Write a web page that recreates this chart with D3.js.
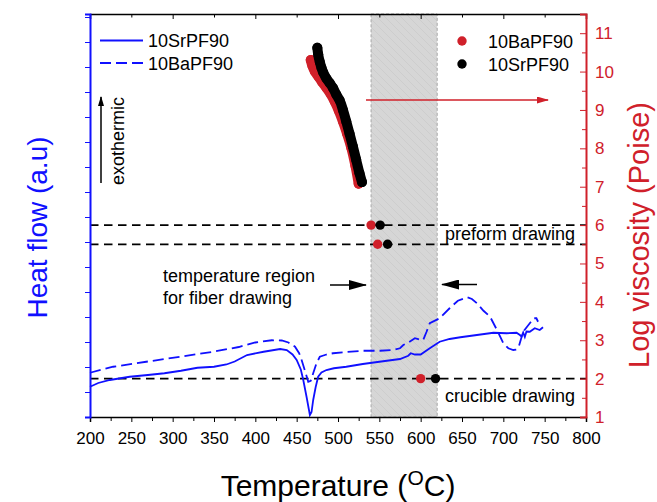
<!DOCTYPE html>
<html>
<head>
<meta charset="utf-8">
<script src="https://cdn.jsdelivr.net/npm/d3@7"></script>
<style>
body { margin: 0; background: #fff; }
text { font-family: "Liberation Sans", Arial, sans-serif; }
</style>
</head>
<body>
<svg id="chart" width="657" height="502"></svg>
<script>
// DSC curves (heat flow, arbitrary units)
var tempSr = [200, 210, 224, 248, 270, 290, 310, 330, 350, 365, 375, 390, 410, 430, 438, 445, 450, 455, 458, 462, 466, 468, 470, 473, 476, 480, 486, 495, 510, 530, 550, 575, 585, 588, 593, 600, 611, 623, 635, 648, 668, 688, 704, 716, 720, 722, 724, 726, 728, 732, 738, 744, 748];
var heatSr = [1.21, 1.36, 1.48, 1.61, 1.68, 1.75, 1.85, 1.97, 2.01, 2.1, 2.22, 2.48, 2.61, 2.72, 2.68, 2.5, 2.28, 1.9, 1.48, 0.8, 0.08, 0.2, 0.68, 1.2, 1.61, 1.78, 1.88, 1.95, 2.01, 2.12, 2.21, 2.32, 2.45, 2.55, 2.5, 2.5, 2.75, 3.01, 3.12, 3.19, 3.28, 3.37, 3.35, 3.37, 3.28, 3.22, 3.38, 3.2, 3.42, 3.41, 3.55, 3.48, 3.59];
var tempBa = [200, 228, 268, 309, 349, 380, 400, 420, 432, 440, 448, 453, 456, 460, 464, 467, 470, 474, 478, 486, 494, 510, 530, 551, 567, 575, 579, 586, 593, 598, 603, 607, 611, 623, 635, 645, 656, 662, 668, 676, 684, 692, 700, 706, 712, 716, 719, 724, 732, 737, 740, 742];
var heatBa = [1.77, 2.01, 2.21, 2.41, 2.61, 2.8, 2.98, 3.07, 3.06, 2.98, 2.81, 2.55, 2.28, 1.85, 1.41, 1.45, 1.75, 2.15, 2.41, 2.5, 2.55, 2.6, 2.65, 2.65, 2.68, 2.75, 2.88, 3.0, 3.15, 3.1, 3.08, 3.4, 3.75, 3.95, 4.35, 4.65, 4.79, 4.72, 4.55, 4.25, 4.01, 3.5, 2.95, 2.75, 2.68, 2.7, 2.85, 3.41, 3.75, 3.95, 3.95, 3.81];

// viscosity points (log poise)
var viscTempBa = [467, 469, 472, 477, 481, 486, 491, 496, 501, 506, 511, 516, 521, 525];
var viscLogBa = [10.3, 10.15, 10.0, 9.85, 9.72, 9.58, 9.42, 9.22, 8.98, 8.7, 8.38, 8.02, 7.55, 7.08];
var viscTempSr = [475, 476, 478, 480, 482, 486, 490, 494, 498, 502, 506, 510, 514, 518, 522, 526, 529];
var viscLogSr = [10.62, 10.45, 10.25, 10.1, 9.98, 9.82, 9.7, 9.57, 9.4, 9.25, 9.0, 8.7, 8.38, 8.05, 7.7, 7.35, 7.12];

// fixed points on the drawing levels
var levels = [6, 5.5, 2];
var levelLabels = ["preform drawing", "", "crucible drawing"];
var fixTempBa = [540, 548, 600];
var fixTempSr = [551, 560, 618];

var fiberRegion = [540, 620];
var xTicks = [200, 250, 300, 350, 400, 450, 500, 550, 600, 650, 700, 750, 800];
var yRightTicks = [1, 2, 3, 4, 5, 6, 7, 8, 9, 10, 11];

var blue = "#1010ff";
var red = "#d0202a";

var svg = d3.select("#chart");
var pLeft = 90, pRight = 586, pTop = 14, pBottom = 417;

var x = d3.scaleLinear().domain([200, 800]).range([pLeft, pRight]);
var yL = d3.scaleLinear().domain([0, 16.12]).range([pBottom, pTop]);
var yR = d3.scaleLinear().domain([1, 11.5]).range([pBottom, pTop]);

svg.append("rect").attr("width", 657).attr("height", 502).attr("fill", "#fff");

// hatch for the shaded band
var defs = svg.append("defs");
var pat = defs.append("pattern")
	.attr("id", "hatch")
	.attr("patternUnits", "userSpaceOnUse")
	.attr("width", 8)
	.attr("height", 8);
pat.append("rect").attr("width", 8).attr("height", 8).attr("fill", "#d6d6d6");
pat.append("path")
	.attr("d", "M0,0 L8,8 M-2,6 L2,10 M6,-2 L10,2")
	.attr("stroke", "#cacaca")
	.attr("stroke-width", 0.8);

function arrowHead(id, len, wid, color){
	defs.append("marker")
		.attr("id", id)
		.attr("viewBox", "0 0 " + len + " " + wid)
		.attr("refX", len - 1).attr("refY", wid / 2)
		.attr("markerWidth", len).attr("markerHeight", wid)
		.attr("markerUnits", "userSpaceOnUse")
		.attr("orient", "auto")
		.append("path")
		.attr("d", "M0,0 L" + len + "," + (wid / 2) + " L0," + wid + " Z")
		.attr("fill", color);
}
arrowHead("headBlack", 10, 6, "#000");
arrowHead("headBig", 18, 10, "#000");
arrowHead("headRed", 12, 7, red);

svg.append("rect")
	.attr("x", x(fiberRegion[0]))
	.attr("y", pTop)
	.attr("width", x(fiberRegion[1]) - x(fiberRegion[0]))
	.attr("height", pBottom - pTop)
	.attr("fill", "url(#hatch)")
	.attr("stroke", "#a8a8a8")
	.attr("stroke-width", 1)
	.attr("stroke-dasharray", "3,2");

// horizontal drawing levels
for (var i = 0; i < levels.length; i++) {
	svg.append("line")
		.attr("x1", pLeft).attr("x2", pRight)
		.attr("y1", yR(levels[i])).attr("y2", yR(levels[i]))
		.attr("stroke", "#000")
		.attr("stroke-width", 1.8)
		.attr("stroke-dasharray", "8.5,5.5");
}

// DSC curves
var lineH = d3.line().x(function(d){ return x(d[0]); }).y(function(d){ return yL(d[1]); });
svg.append("path")
	.datum(d3.zip(tempSr, heatSr))
	.attr("d", lineH)
	.attr("fill", "none")
	.attr("stroke", blue)
	.attr("stroke-width", 1.8);
svg.append("path")
	.datum(d3.zip(tempBa, heatBa))
	.attr("d", lineH)
	.attr("fill", "none")
	.attr("stroke", blue)
	.attr("stroke-width", 1.8)
	.attr("stroke-dasharray", "11,5");

// viscosity series: dense markers -> thick path plus dots
var lineV = d3.line().x(function(d){ return x(d[0]); }).y(function(d){ return yR(d[1]); }).curve(d3.curveMonotoneY);
function drawVisc(temps, logs, color){
	var pts = d3.zip(temps, logs);
	svg.append("path")
		.datum(pts)
		.attr("d", lineV)
		.attr("fill", "none")
		.attr("stroke", color)
		.attr("stroke-width", 10)
		.attr("stroke-linecap", "round")
		.attr("stroke-linejoin", "round");
	svg.selectAll(null)
		.data(pts)
		.enter().append("circle")
		.attr("cx", function(d){ return x(d[0]); })
		.attr("cy", function(d){ return yR(d[1]); })
		.attr("r", 5)
		.attr("fill", color);
}
drawVisc(viscTempBa, viscLogBa, red);
drawVisc(viscTempSr, viscLogSr, "#000");

for (var i = 0; i < levels.length; i++) {
	svg.append("circle").attr("cx", x(fixTempBa[i])).attr("cy", yR(levels[i])).attr("r", 4.7).attr("fill", red);
	svg.append("circle").attr("cx", x(fixTempSr[i])).attr("cy", yR(levels[i])).attr("r", 4.7).attr("fill", "#000");
}

// axes
var gTop = svg.append("g").attr("transform", "translate(0," + pTop + ")")
	.call(d3.axisTop(x).tickValues(xTicks).tickSize(-5).tickFormat(""));
gTop.selectAll(".tick line").attr("y2", function(d){ return d % 100 == 0 ? 5 : 3.5; });
gTop.select(".domain").attr("stroke-width", 1.5);

var gBot = svg.append("g").attr("transform", "translate(0," + pBottom + ")")
	.call(d3.axisBottom(x).tickValues(xTicks).tickSize(5).tickPadding(10));
gBot.select(".domain").attr("stroke-width", 1.5);
svg.append("g").attr("transform", "translate(0," + pBottom + ")")
	.call(d3.axisBottom(x).tickValues(d3.range(225, 800, 50)).tickSize(4).tickFormat(""))
	.select(".domain").remove();
gBot.selectAll("text").attr("font-size", 17).attr("fill", "#000").attr("font-family", "Liberation Sans, Arial, sans-serif");

var gLeft = svg.append("g").attr("transform", "translate(" + pLeft + ",0)")
	.call(d3.axisLeft(yL).tickValues(d3.range(0, 17)).tickSize(5).tickFormat(""));
gLeft.selectAll("line, path").attr("stroke", blue);
gLeft.select(".domain").attr("stroke-width", 2);

var gRight = svg.append("g").attr("transform", "translate(" + pRight + ",0)")
	.call(d3.axisRight(yR).tickValues(yRightTicks).tickSize(-6).tickPadding(9));
var gRightMinor = svg.append("g").attr("transform", "translate(" + pRight + ",0)")
	.call(d3.axisRight(yR).tickValues(d3.range(1.5, 11.5, 1)).tickSize(-4).tickFormat(""));
gRightMinor.select(".domain").remove();
gRight.selectAll("line, path").attr("stroke", red);
gRightMinor.selectAll("line").attr("stroke", red);
gRight.select(".domain").attr("stroke-width", 2);
gRight.selectAll("text").attr("font-size", 17).attr("fill", red).attr("font-family", "Liberation Sans, Arial, sans-serif");

// axis titles
svg.append("text")
	.attr("transform", "translate(47," + ((pTop + pBottom) / 2 + 12) + ") rotate(-90)")
	.attr("text-anchor", "middle")
	.attr("font-size", 28)
	.attr("fill", blue)
	.text("Heat flow (a.u)");
svg.append("text")
	.attr("transform", "translate(649,235) rotate(-90)")
	.attr("text-anchor", "middle")
	.attr("font-size", 29)
	.attr("fill", red)
	.text("Log viscosity (Poise)");
var xt = svg.append("text")
	.attr("x", 338).attr("y", 496)
	.attr("text-anchor", "middle")
	.attr("font-size", 30)
	.attr("fill", "#000");
xt.append("tspan").text("Temperature (");
xt.append("tspan").attr("font-size", 21).attr("dy", -11).text("O");
xt.append("tspan").attr("dy", 11).text("C)");

// legends
var legLeft = ["10SrPF90", "10BaPF90"];
var legDash = [null, "11,5"];
for (var i = 0; i < legLeft.length; i++) {
	var ly = 40.5 + i * 22.5;
	svg.append("line")
		.attr("x1", 100).attr("x2", 143).attr("y1", ly).attr("y2", ly)
		.attr("stroke", blue).attr("stroke-width", 1.8)
		.attr("stroke-dasharray", legDash[i]);
	svg.append("text").attr("x", 148).attr("y", ly + 6.5).attr("font-size", 18).text(legLeft[i]);
}
var legRight = ["10BaPF90", "10SrPF90"];
var legCol = [red, "#000"];
for (var i = 0; i < legRight.length; i++) {
	var ly = 41 + i * 23;
	svg.append("circle").attr("cx", 462).attr("cy", ly).attr("r", 4.7).attr("fill", legCol[i]);
	svg.append("text").attr("x", 488).attr("y", ly + 6.5).attr("font-size", 18).text(legRight[i]);
}

// annotations
svg.append("line")
	.attr("x1", 101).attr("y1", 183).attr("x2", 101).attr("y2", 97)
	.attr("stroke", "#000").attr("stroke-width", 1.5)
	.attr("marker-end", "url(#headBlack)");
svg.append("text")
	.attr("transform", "translate(124,141) rotate(-90)")
	.attr("text-anchor", "middle")
	.attr("font-size", 18)
	.text("exothermic");

svg.append("text").attr("x", 163).attr("y", 282).attr("font-size", 18).text("temperature region");
svg.append("text").attr("x", 163).attr("y", 304).attr("font-size", 18).text("for fiber drawing");
svg.append("line")
	.attr("x1", 330).attr("y1", 285).attr("x2", 366).attr("y2", 285)
	.attr("stroke", "#000").attr("stroke-width", 1.5)
	.attr("marker-end", "url(#headBig)");
svg.append("line")
	.attr("x1", 477).attr("y1", 284.5).attr("x2", 442).attr("y2", 284.5)
	.attr("stroke", "#000").attr("stroke-width", 1.5)
	.attr("marker-end", "url(#headBig)");

svg.append("line")
	.attr("x1", 366).attr("y1", 100).attr("x2", 548).attr("y2", 100)
	.attr("stroke", red).attr("stroke-width", 1.5)
	.attr("marker-end", "url(#headRed)");

for (var i = 0; i < levels.length; i++) {
	if (levelLabels[i] == "") continue;
	svg.append("text")
		.attr("x", 575)
		.attr("y", yR(levels[i]) + (i == 0 ? 15 : 23))
		.attr("text-anchor", "end")
		.attr("font-size", 18)
		.text(levelLabels[i]);
}
</script>
</body>
</html>
